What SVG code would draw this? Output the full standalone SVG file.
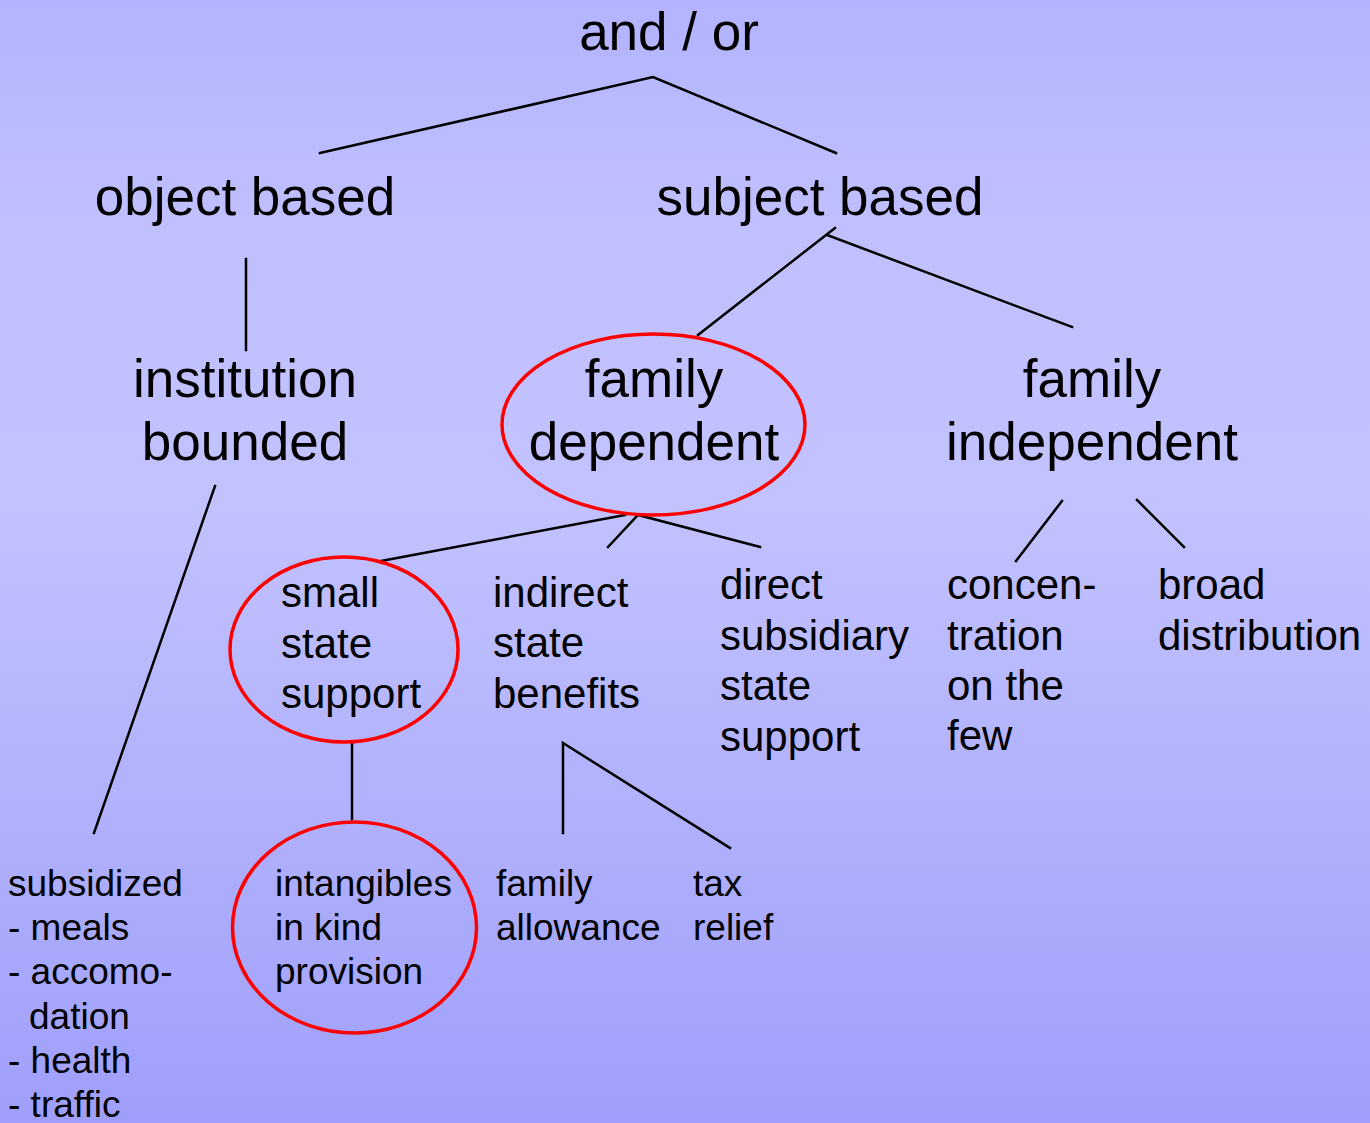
<svg xmlns="http://www.w3.org/2000/svg" width="1370" height="1123" viewBox="0 0 1370 1123">
  <defs>
    <linearGradient id="bg" x1="0" y1="0" x2="0" y2="1">
      <stop offset="0" stop-color="#B3B3FF"/>
      <stop offset="0.2" stop-color="#C0C0FF"/>
      <stop offset="0.45" stop-color="#C2C2FF"/>
      <stop offset="1" stop-color="#9F9FFB"/>
    </linearGradient>
    <style>
      text { font-family: "Liberation Sans", Arial, sans-serif; fill: #000; }
      .l1 { font-size: 53px; }
      .l2 { font-size: 42px; }
      .l3 { font-size: 37px; }
      .c { text-anchor: middle; }
      .ring { fill: none; stroke: #FF0000; stroke-width: 3.5; }
      .edge { fill: none; stroke: #000; stroke-width: 2.5; stroke-linecap: square; }
    </style>
  </defs>
  <rect x="0" y="0" width="1370" height="1123" fill="url(#bg)"/>

  <g id="connectors">
    <polyline class="edge" points="320,153 653,77 836,153"/>
    <line class="edge" x1="246" y1="259" x2="246" y2="350"/>
    <line class="edge" x1="698" y1="335" x2="835" y2="228"/>
    <line class="edge" x1="827" y1="235" x2="1072" y2="327"/>
    <line class="edge" x1="215" y1="486" x2="94" y2="833"/>
    <line class="edge" x1="381" y1="561" x2="625" y2="515"/>
    <polyline class="edge" points="608,547 638,515 760,547"/>
    <line class="edge" x1="1062" y1="501" x2="1016" y2="561"/>
    <line class="edge" x1="1137" y1="500" x2="1184" y2="547"/>
    <line class="edge" x1="352" y1="743" x2="352" y2="819"/>
    <polyline class="edge" points="563,833 563,743 730,848"/>
  </g>

  <g id="and-or">
    <text class="l1 c" x="669" y="50">and / or</text>
  </g>
  <g id="object-based">
    <text class="l1 c" x="245" y="215">object based</text>
  </g>
  <g id="subject-based">
    <text class="l1 c" x="820" y="215">subject based</text>
  </g>
  <g id="institution-bounded">
    <text class="l1 c" x="245" y="397">institution</text>
    <text class="l1 c" x="245" y="460">bounded</text>
  </g>
  <g id="family-dependent">
    <ellipse class="ring" cx="653.5" cy="424.5" rx="151.5" ry="90.5"/>
    <text class="l1 c" x="654" y="397">family</text>
    <text class="l1 c" x="654" y="460">dependent</text>
  </g>
  <g id="family-independent">
    <text class="l1 c" x="1092" y="397">family</text>
    <text class="l1 c" x="1092" y="460">independent</text>
  </g>
  <g id="small-state-support">
    <ellipse class="ring" cx="344" cy="649.5" rx="114" ry="92.5"/>
    <text class="l2" x="281" y="607">small</text>
    <text class="l2" x="281" y="658">state</text>
    <text class="l2" x="281" y="708">support</text>
  </g>
  <g id="indirect-state-benefits">
    <text class="l2" x="493" y="607">indirect</text>
    <text class="l2" x="493" y="657">state</text>
    <text class="l2" x="493" y="708">benefits</text>
  </g>
  <g id="direct-subsidiary-state-support">
    <text class="l2" x="720" y="599">direct</text>
    <text class="l2" x="720" y="650">subsidiary</text>
    <text class="l2" x="720" y="700">state</text>
    <text class="l2" x="720" y="751">support</text>
  </g>
  <g id="concentration">
    <text class="l2" x="947" y="599">concen-</text>
    <text class="l2" x="947" y="650">tration</text>
    <text class="l2" x="947" y="700">on the</text>
    <text class="l2" x="947" y="750">few</text>
  </g>
  <g id="broad-distribution">
    <text class="l2" x="1158" y="599">broad</text>
    <text class="l2" x="1158" y="650">distribution</text>
  </g>
  <g id="subsidized">
    <text class="l3" x="8" y="896">subsidized</text>
    <text class="l3" x="8" y="940">- meals</text>
    <text class="l3" x="8" y="984">- accomo-</text>
    <text class="l3" x="29" y="1029">dation</text>
    <text class="l3" x="8" y="1073">- health</text>
    <text class="l3" x="8" y="1117">- traffic</text>
  </g>
  <g id="intangibles">
    <ellipse class="ring" cx="354.5" cy="927.5" rx="122" ry="105.5"/>
    <text class="l3" x="275" y="896">intangibles</text>
    <text class="l3" x="275" y="940">in kind</text>
    <text class="l3" x="275" y="984">provision</text>
  </g>
  <g id="family-allowance">
    <text class="l3" x="496" y="896">family</text>
    <text class="l3" x="496" y="940">allowance</text>
  </g>
  <g id="tax-relief">
    <text class="l3" x="693" y="896">tax</text>
    <text class="l3" x="693" y="940">relief</text>
  </g>
</svg>
